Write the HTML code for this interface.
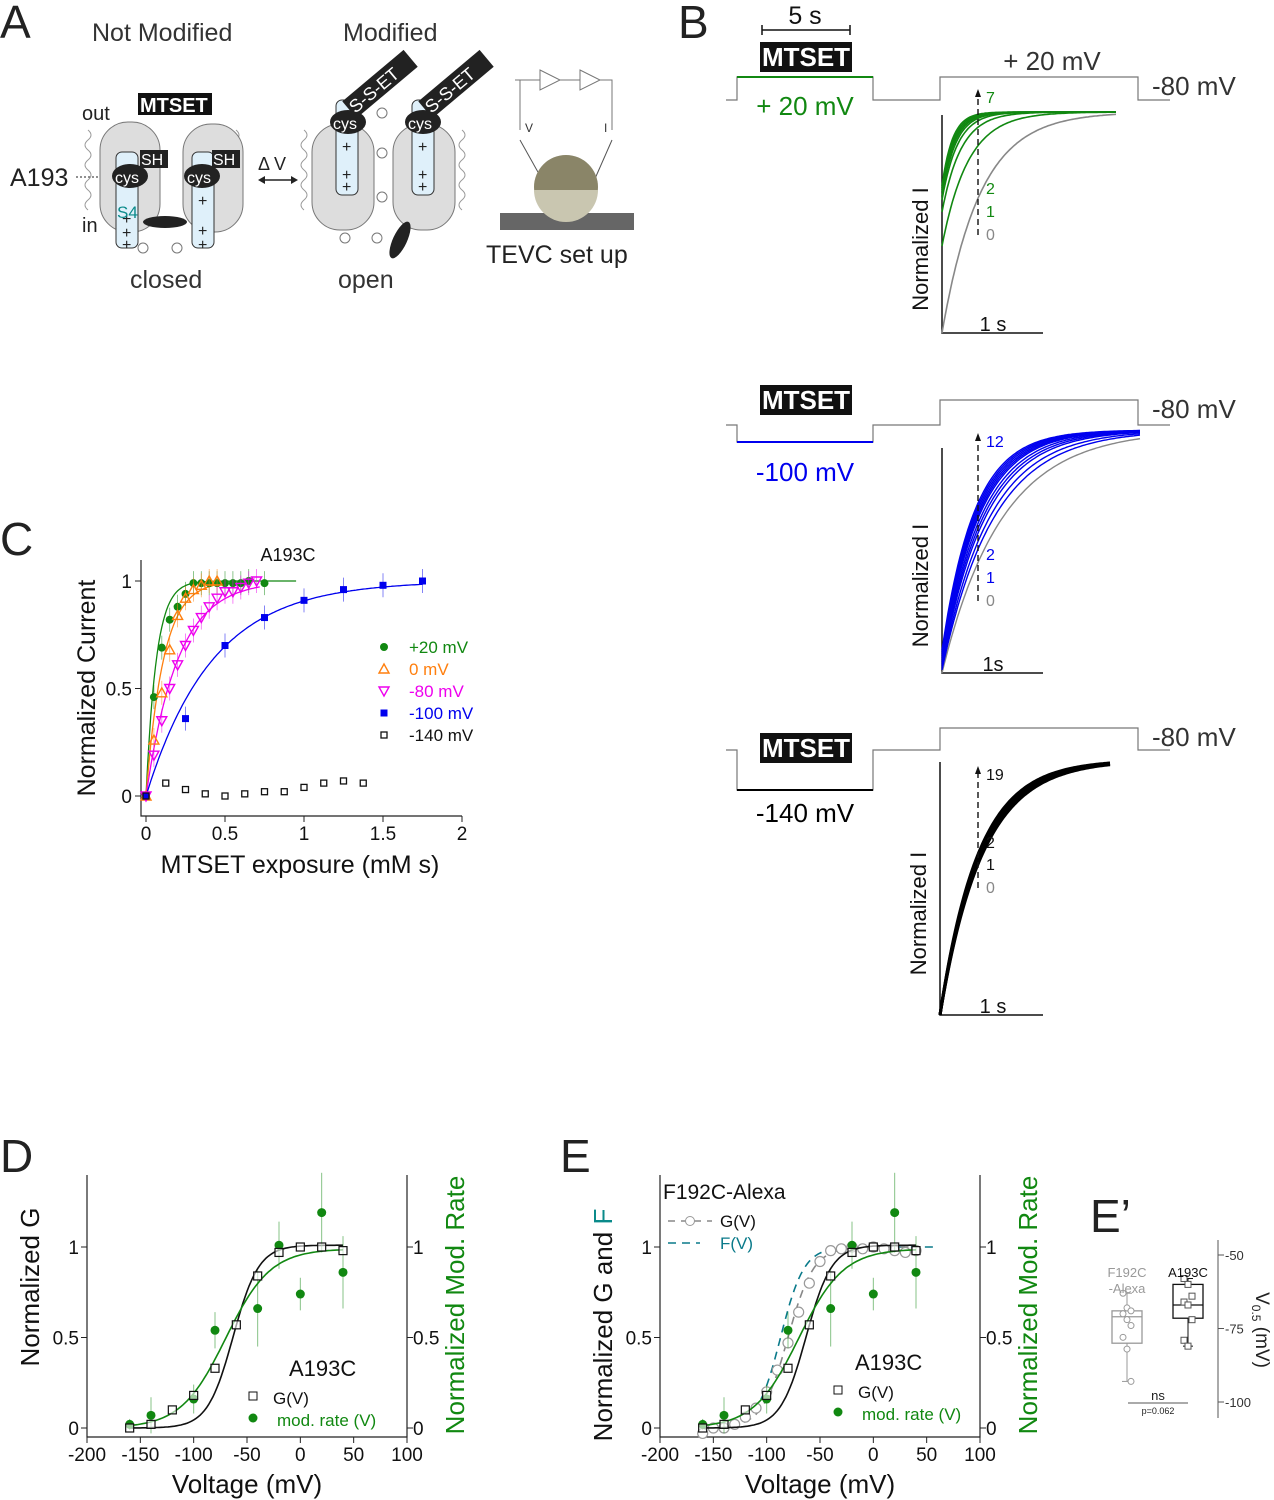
<!DOCTYPE html>
<html><head><meta charset="utf-8">
<style>
html,body{margin:0;padding:0;background:#fff;}
svg{display:block;font-family:"Liberation Sans",Arial,sans-serif;}
</style></head>
<body>
<svg id="fig" width="1274" height="1500" viewBox="0 0 1274 1500" xmlns="http://www.w3.org/2000/svg">
<g font-size="46" fill="#222">
<text x="0" y="38">A</text><text x="678" y="38">B</text><text x="0" y="555">C</text>
<text x="0" y="1172">D</text><text x="560" y="1172">E</text><text x="1090" y="1232">E’</text>
</g>

<g>
<text x="92" y="41" font-size="25" fill="#333">Not Modified</text>
<text x="343" y="41" font-size="25" fill="#333">Modified</text>
<text x="82" y="120" font-size="20" fill="#222">out</text>
<text x="82" y="232" font-size="20" fill="#222">in</text>
<text x="10" y="186" font-size="25" fill="#222">A193</text>
<line x1="76" y1="177" x2="110" y2="177" stroke="#222" stroke-dasharray="2,2"/>
<path d="M106 173 L113 177 L106 181Z" fill="#222"/>
<g fill="none" stroke="#999" stroke-width="1">
<path d="M88 130 q6 5 0 10 q-6 5 0 10 q6 5 0 10 q-6 5 0 10 q6 5 0 10 q-6 5 0 10 q6 5 0 10 q-6 5 0 10"/>
<path d="M236 130 q6 5 0 10 q-6 5 0 10 q6 5 0 10 q-6 5 0 10 q6 5 0 10 q-6 5 0 10 q6 5 0 10 q-6 5 0 10"/>
<path d="M304 130 q6 5 0 10 q-6 5 0 10 q6 5 0 10 q-6 5 0 10 q6 5 0 10 q-6 5 0 10 q6 5 0 10 q-6 5 0 10"/>
<path d="M462 130 q6 5 0 10 q-6 5 0 10 q6 5 0 10 q-6 5 0 10 q6 5 0 10 q-6 5 0 10 q6 5 0 10 q-6 5 0 10"/>
</g>
<rect x="138" y="93" width="74" height="22" fill="#111"/>
<text x="140" y="112" font-size="20" fill="#fff" font-weight="bold">MTSET</text>
<rect x="100" y="122" width="60" height="110" rx="28" fill="#ddd" stroke="#777"/>
<rect x="183" y="124" width="60" height="108" rx="28" fill="#ddd" stroke="#777"/>
<rect x="312" y="124" width="62" height="106" rx="28" fill="#ddd" stroke="#777"/>
<rect x="393" y="124" width="62" height="106" rx="28" fill="#ddd" stroke="#777"/>
<rect x="116" y="152" width="22" height="96" rx="6" fill="#dff0fa" stroke="#333"/>
<rect x="192" y="152" width="22" height="96" rx="6" fill="#dff0fa" stroke="#333"/>
<rect x="336" y="100" width="22" height="95" rx="6" fill="#dff0fa" stroke="#333"/>
<rect x="412" y="100" width="22" height="95" rx="6" fill="#dff0fa" stroke="#333"/>
<g fill="#222" font-size="16"><text x="122" y="224">+</text><text x="122" y="238">+</text><text x="122" y="250">+</text>
<text x="198" y="206">+</text><text x="198" y="236">+</text><text x="198" y="250">+</text>
<text x="342" y="152">+</text><text x="342" y="180">+</text><text x="342" y="192">+</text>
<text x="418" y="152">+</text><text x="418" y="180">+</text><text x="418" y="192">+</text></g>
<g fill="none" stroke="#777"><circle cx="143" cy="248" r="5"/><circle cx="177" cy="248" r="5"/><circle cx="382" cy="113" r="5"/><circle cx="382" cy="153" r="5"/><circle cx="382" cy="197" r="5"/><circle cx="345" cy="238" r="5"/><circle cx="377" cy="238" r="5"/></g>
<g fill="#222"><ellipse cx="130" cy="176" rx="18" ry="12"/><ellipse cx="202" cy="176" rx="18" ry="12"/>
<ellipse cx="348" cy="122" rx="18" ry="12"/><ellipse cx="423" cy="122" rx="18" ry="12"/>
<ellipse cx="165" cy="222" rx="22" ry="6"/><ellipse cx="400" cy="240" rx="7" ry="20" transform="rotate(25 400 240)"/>
<rect x="140" y="150" width="28" height="18"/><rect x="212" y="150" width="28" height="18"/></g>
<g fill="#fff" font-size="16"><text x="115" y="183">cys</text><text x="187" y="183">cys</text>
<text x="333" y="129">cys</text><text x="408" y="129">cys</text><text x="141" y="165">SH</text><text x="213" y="165">SH</text></g>
<g transform="rotate(-40 360 110)"><rect x="352" y="92" width="80" height="22" fill="#222"/><text x="354" y="110" fill="#fff" font-size="18">S-S-ET</text></g>
<g transform="rotate(-40 436 110)"><rect x="428" y="92" width="80" height="22" fill="#222"/><text x="430" y="110" fill="#fff" font-size="18">S-S-ET</text></g>
<text x="117" y="218" font-size="17" fill="#0a8a8a">S4</text>
<text x="258" y="170" font-size="18" fill="#222">Δ V</text>
<line x1="262" y1="180" x2="294" y2="180" stroke="#222" stroke-width="1.5"/>
<path d="M258 180 L265 176 L265 184Z M298 180 L291 176 L291 184Z" fill="#222"/>
<text x="130" y="288" font-size="25" fill="#333">closed</text>
<text x="338" y="288" font-size="25" fill="#333">open</text>
<path d="M515 80 H540 M540 70 L560 80 L540 90Z M560 80 H580 M580 70 L600 80 L580 90Z M600 80 H612 V130 M520 80 V130" fill="none" stroke="#777"/>
<line x1="520" y1="140" x2="548" y2="190" stroke="#555"/><line x1="612" y1="140" x2="590" y2="190" stroke="#555"/>
<text x="525" y="132" font-size="12" fill="#333">V</text><text x="604" y="132" font-size="12" fill="#333">I</text>
<path d="M500 213 H634 V230 H500Z" fill="#666"/>
<circle cx="566" cy="187" r="32" fill="#8a8568"/><path d="M534 190 A32 32 0 0 0 598 190Z" fill="#c9c6b0"/>
<text x="486" y="263" font-size="25" fill="#222">TEVC set up</text>
</g>

<g id="panelB"></g>
<g id="panelC"></g>
<g id="panelD"></g>
<g id="panelE"></g>
<g id="panelEp"></g>
</svg>
<script>
// Panel C data
const cTicksX = [0, 0.5, 1, 1.5, 2];
const cTicksY = [0, 0.5, 1];
const cP20x = [0, 0.05, 0.1, 0.15, 0.2, 0.25, 0.3, 0.35, 0.4, 0.45, 0.5, 0.55, 0.6, 0.65, 0.75];
const cP20y = [0, 0.46, 0.69, 0.82, 0.88, 0.94, 0.99, 0.99, 0.99, 0.99, 0.99, 0.99, 0.99, 1.0, 0.99];
const c0x = [0, 0.05, 0.1, 0.15, 0.2, 0.25, 0.3, 0.35, 0.4, 0.45];
const c0y = [0, 0.26, 0.48, 0.68, 0.84, 0.92, 0.96, 0.98, 1.0, 1.0];
const cM80x = [0, 0.05, 0.1, 0.15, 0.2, 0.25, 0.3, 0.35, 0.4, 0.45, 0.5, 0.55, 0.6, 0.65, 0.7];
const cM80y = [0, 0.19, 0.35, 0.5, 0.61, 0.7, 0.77, 0.83, 0.88, 0.92, 0.95, 0.95, 0.97, 0.99, 1.0];
const cM100x = [0, 0.25, 0.5, 0.75, 1.0, 1.25, 1.5, 1.75];
const cM100y = [0, 0.36, 0.7, 0.83, 0.91, 0.96, 0.98, 1.0];
const cM140x = [0, 0.125, 0.25, 0.375, 0.5, 0.625, 0.75, 0.875, 1.0, 1.125, 1.25, 1.375];
const cM140y = [0, 0.06, 0.03, 0.01, 0, 0.01, 0.02, 0.02, 0.04, 0.06, 0.07, 0.06];
const cTau = [0.065, 0.11, 0.2, 0.42];
// Panel D data
const dTicksX = [-200, -150, -100, -50, 0, 50, 100];
const dTicksY = [0, 0.5, 1];
const gvV = [-160, -140, -120, -100, -80, -60, -40, -20, 0, 20, 40];
const gvG = [0, 0.02, 0.1, 0.18, 0.33, 0.57, 0.84, 0.97, 1.0, 1.0, 0.98];
const modV = [-160, -140, -100, -80, -40, -20, 0, 20, 40];
const modR = [0.02, 0.07, 0.16, 0.54, 0.66, 1.01, 0.74, 1.19, 0.86];
const modErr = [0.03, 0.1, 0.08, 0.1, 0.21, 0.13, 0.09, 0.22, 0.2];
const gvFit = [-63, 12, 1.01];
const modFit = [-70, 21, 0.99];
// Panel E data
const fgV = [-160, -150, -140, -130, -120, -110, -100, -90, -80, -70, -60, -50, -40, -30, -20, -10, 0, 10, 20, 30, 40];
const fgG = [-0.03, 0.0, 0.0, 0.02, 0.06, 0.11, 0.2, 0.32, 0.47, 0.64, 0.8, 0.92, 0.98, 0.99, 1.0, 0.99, 1.0, 0.99, 0.98, 0.97, 0.98];
const fgFit = [-80, 12, 1.0];
const fvFit = [-87, 11, 1.0];
// Panel E' data
const boxLabels = ["F192C\n-Alexa", "A193C"];
const boxQ = [[-93, -80, -71, -69, -63], [-81, -71.5, -67, -60, -58]];
const boxPts = [[-63, -68, -69, -70, -72, -74, -78, -82, -93], [-58, -60, -64, -66, -67, -72, -79, -81]];
const epTicks = [-50, -75, -100];

const NS = "http://www.w3.org/2000/svg";
function mk(parent, tag, attrs, txt) {
  const e = document.createElementNS(NS, tag);
  for (const k in attrs) e.setAttribute(k, attrs[k]);
  if (txt !== undefined) e.textContent = txt;
  parent.appendChild(e);
  return e;
}
function boltz(v, p) { return p[2] / (1 + Math.exp((p[0] - v) / p[1])); }

// Panel B
(function () {
  const g = document.getElementById('panelB');
  const protos = [
    { base: 100, pre: 77, step: 77, col: "#118811", lab: "+ 20 mV", ly: 115, top: 112, starts: [333, 246, 212, 200, 196, 192, 190, 188, 186], taus: [0.22, 0.15, 0.11, 0.09, 0.08, 0.075, 0.07, 0.065, 0.06], num: ["7", "2", "1", "0"], numy: [103, 194, 217, 240], x0: 942, axTop: 115, bot: 333, xEnd: 1116, cap: "1 s", w: 1.6 },
    { base: 425, pre: 442, step: 400, col: "#0000ee", lab: "-100 mV", ly: 481, top: 430, starts: [673, 670, 668, 666, 664, 662, 660, 658, 656, 654, 652, 650], taus: [0.3, 0.26, 0.24, 0.22, 0.21, 0.2, 0.19, 0.185, 0.18, 0.175, 0.17, 0.165], num: ["12", "2", "1", "0"], numy: [447, 560, 583, 606], x0: 942, axTop: 448, bot: 673, xEnd: 1140, cap: "1s", w: 1.4 },
    { base: 750, pre: 790, step: 728, col: "#000", lab: "-140 mV", ly: 822, top: 760, starts: [1015, 1015, 1015, 1015, 1015, 1015], taus: [0.25, 0.245, 0.24, 0.235, 0.23, 0.225], num: ["19", "2", "1", "0"], numy: [780, 848, 870, 893], x0: 940, axTop: 762, bot: 1015, xEnd: 1110, cap: "1 s", w: 3 }
  ];
  protos.forEach((p, k) => {
    mk(g, 'path', { d: `M726 ${p.base} H737 V${p.pre} H873 V${p.base} H940 V${p.step} H1138 V${p.base} H1170`, fill: 'none', stroke: '#777', 'stroke-width': 1.2 });
    mk(g, 'line', { x1: 737, y1: p.pre, x2: 873, y2: p.pre, stroke: p.col, 'stroke-width': 2 });
    const mt = mk(g, 'rect', { x: 760, y: p.pre - (k == 0 ? 35 : 57), width: 92, height: 30, fill: '#111' });
    
    
    mk(g, 'text', { x: 806, y: p.pre - (k == 0 ? 11 : 33), 'font-size': 26, fill: '#fff', 'text-anchor': 'middle', 'font-weight': 'bold' }, 'MTSET');
    mk(g, 'text', { x: 805, y: p.ly, 'font-size': 26, fill: p.col, 'text-anchor': 'middle' }, p.lab);
    mk(g, 'text', { x: 1152, y: p.step + 18, 'font-size': 26, fill: '#333' }, '-80 mV');
    mk(g, 'path', { d: `M${p.x0} ${p.axTop} V${p.bot} H1043`, fill: 'none', stroke: '#111', 'stroke-width': 1.5 });
    mk(g, 'text', { x: 993, y: p.bot - 2, 'font-size': 20, fill: '#111', 'text-anchor': 'middle' }, p.cap);
    mk(g, 'text', { x: 0, y: 0, 'font-size': 22, fill: '#111', 'text-anchor': 'middle', transform: `translate(${p.x0 - 14},${(p.axTop + p.bot) / 2 + 25}) rotate(-90)` }, 'Normalized I');
    p.starts.forEach((s, i) => {
      let d = '';
      for (let t = 0; t <= 1.0001; t += 0.01) {
        const x = p.x0 + t * (p.xEnd - p.x0);
        const y = p.top + (s - p.top) * Math.exp(-t / p.taus[i]);
        d += (t === 0 ? 'M' : 'L') + x.toFixed(1) + ' ' + y.toFixed(1);
      }
      const c = (i === 0 && k < 2) ? '#888' : p.col;
      const tr = mk(g, 'path', { d, fill: 'none', stroke: c, 'stroke-width': p.w });
      
      
    });
    mk(g, 'line', { x1: 978, y1: p.numy[3] - 5, x2: 978, y2: p.numy[0] - 8, stroke: '#111', 'stroke-dasharray': '6,4', 'stroke-width': 1.4 });
    mk(g, 'path', { d: `M975 ${p.numy[0] - 6} L978 ${p.numy[0] - 14} L981 ${p.numy[0] - 6}Z`, fill: '#111' });
    p.num.forEach((n, i) => mk(g, 'text', { x: 986, y: p.numy[i], 'font-size': 16, fill: i == 3 ? '#888' : (k == 2 ? '#111' : p.col) }, n));
  });
  mk(g, 'text', { x: 805, y: 24, 'font-size': 25, fill: '#111', 'text-anchor': 'middle' }, '5 s');
  mk(g, 'path', { d: 'M762 25 V35 M762 30 H850 M850 25 V35', stroke: '#111', fill: 'none', 'stroke-width': 1.5 });
  mk(g, 'text', { x: 1052, y: 70, 'font-size': 26, fill: '#333', 'text-anchor': 'middle' }, '+ 20 mV');
})();

// Panel C
(function () {
  const g = document.getElementById('panelC');
  const X = v => 146 + v * 158, Y = v => 796 - v * 215;
  mk(g, 'path', { d: 'M141 560 V816 H462', fill: 'none', stroke: '#222', 'stroke-width': 1.2 });
  cTicksX.forEach(t => { mk(g, 'line', { x1: X(t), y1: 816, x2: X(t), y2: 822, stroke: '#222' }); mk(g, 'text', { x: X(t), y: 840, 'font-size': 19, 'text-anchor': 'middle', fill: '#111' }, String(t)); });
  cTicksY.forEach(t => { mk(g, 'line', { x1: 135, y1: Y(t), x2: 141, y2: Y(t), stroke: '#222' }); mk(g, 'text', { x: 132, y: Y(t) + 7, 'font-size': 19, 'text-anchor': 'end', fill: '#111' }, String(t)); });
  mk(g, 'text', { x: 300, y: 873, 'font-size': 25, 'text-anchor': 'middle', fill: '#111' }, 'MTSET exposure (mM s)');
  mk(g, 'text', { x: 0, y: 0, 'font-size': 25, 'text-anchor': 'middle', fill: '#111', transform: 'translate(95,688) rotate(-90)' }, 'Normalized Current');
  mk(g, 'text', { x: 288, y: 561, 'font-size': 18, 'text-anchor': 'middle', fill: '#111' }, 'A193C');
  const cols = ['#118811', '#ff7f0e', '#ee00ee', '#0000ee'];
  const maxX = [0.95, 0.45, 0.72, 1.75];
  cTau.forEach((tau, i) => {
    let d = '';
    for (let x = 0; x <= maxX[i] + 1e-9; x += 0.01) d += (x === 0 ? 'M' : 'L') + X(x).toFixed(1) + ' ' + Y(1 - Math.exp(-x / tau)).toFixed(1);
    mk(g, 'path', { d, fill: 'none', stroke: cols[i], 'stroke-width': 1.3 });
  });
  const sets = [[cP20x, cP20y, 'circle'], [c0x, c0y, 'tri'], [cM80x, cM80y, 'itri'], [cM100x, cM100y, 'sq'], [cM140x, cM140y, 'osq']];
  const colsAll = cols.concat(['#111']);
  function marker(x, y, type, c) {
    if (type === 'circle') return mk(g, 'circle', { cx: x, cy: y, r: 4, fill: c });
    if (type === 'tri') return mk(g, 'path', { d: `M${x} ${y - 5} L${x + 5} ${y + 4} L${x - 5} ${y + 4}Z`, fill: 'none', stroke: c, 'stroke-width': 1.4 });
    if (type === 'itri') return mk(g, 'path', { d: `M${x} ${y + 5} L${x + 5} ${y - 4} L${x - 5} ${y - 4}Z`, fill: 'none', stroke: c, 'stroke-width': 1.4 });
    if (type === 'sq') return mk(g, 'rect', { x: x - 3.5, y: y - 3.5, width: 7, height: 7, fill: c });
    return mk(g, 'rect', { x: x - 3, y: y - 3, width: 6, height: 6, fill: 'none', stroke: c, 'stroke-width': 1.3 });
  }
  sets.forEach((s, i) => {
    s[0].forEach((x, j) => {
      if (j > 0 && i < 4) mk(g, 'line', { x1: X(x), y1: Y(s[1][j]) - 12, x2: X(x), y2: Y(s[1][j]) + 12, stroke: colsAll[i], 'stroke-width': 0.8, opacity: 0.6 });
      const m = marker(X(x), Y(s[1][j]), s[2], colsAll[i]);
      
      
    });
  });
  const labs = ['+20 mV', '0 mV', '-80 mV', '-100 mV', '-140 mV'];
  labs.forEach((l, i) => {
    marker(384, 647 + i * 22, sets[i][2], colsAll[i]);
    const t = mk(g, 'text', { x: 409, y: 653 + i * 22, 'font-size': 17, fill: colsAll[i] }, l);
    
    
  });
})();

// Panels D & E
function vPanel(gid, x0, x1, ylab, isE) {
  const g = document.getElementById(gid);
  const X = v => x0 + (v + 200) * (x1 - x0) / 300, Y = v => 1428 - v * 181;
  mk(g, 'path', { d: `M${x0} 1175 V1437 H${x1} V1175`, fill: 'none', stroke: '#222', 'stroke-width': 1.2 });
  dTicksX.forEach(t => { mk(g, 'line', { x1: X(t), y1: 1437, x2: X(t), y2: 1443, stroke: '#222' }); mk(g, 'text', { x: X(t), y: 1461, 'font-size': 19, 'text-anchor': 'middle', fill: '#111' }, String(t)); });
  dTicksY.forEach(t => {
    mk(g, 'line', { x1: x0 - 6, y1: Y(t), x2: x0, y2: Y(t), stroke: '#222' });
    mk(g, 'line', { x1: x1, y1: Y(t), x2: x1 + 6, y2: Y(t), stroke: '#222' });
    mk(g, 'text', { x: x0 - 8, y: Y(t) + 7, 'font-size': 19, 'text-anchor': 'end', fill: '#111' }, String(t));
    mk(g, 'text', { x: x1 + 6, y: Y(t) + 7, 'font-size': 19, fill: '#111' }, String(t));
  });
  mk(g, 'text', { x: (x0 + x1) / 2, y: 1493, 'font-size': 26, 'text-anchor': 'middle', fill: '#111' }, 'Voltage (mV)');
  mk(g, 'text', { x: 0, y: 0, 'font-size': 26, 'text-anchor': 'middle', fill: '#118811', transform: `translate(${x1 + 57},1305) rotate(-90)` }, 'Normalized Mod. Rate');
  const yl = mk(g, 'text', { x: 0, y: 0, 'font-size': 26, 'text-anchor': 'middle', fill: '#111', transform: `translate(${x0 - 48},${isE ? 1325 : 1287}) rotate(-90)` });
  yl.textContent = ylab;
  if (isE) mk(yl, 'tspan', { fill: '#0a8a8a' }, ' F');
  function curve(p, c, dash, vmax) {
    let d = '';
    for (let v = -160; v <= vmax; v += 2) d += (v === -160 ? 'M' : 'L') + X(v).toFixed(1) + ' ' + Y(boltz(v, p)).toFixed(1);
    mk(g, 'path', { d, fill: 'none', stroke: c, 'stroke-width': 1.6, 'stroke-dasharray': dash || 'none' });
  }
  if (isE) {
    curve(fvFit, '#0a7a8a', '8,6', 60);
    curve(fgFit, '#888', '8,6', 40);
    fgV.forEach((v, i) => {
      const c = mk(g, 'circle', { cx: X(v), cy: Y(fgG[i]), r: 5, fill: '#fff', stroke: '#999', 'stroke-width': 1.2 });
      
      
    });
  }
  curve(gvFit, '#111', null, 40);
  curve(modFit, '#118811', null, 40);
  modV.forEach((v, i) => {
    mk(g, 'line', { x1: X(v), y1: Y(modR[i] - modErr[i]), x2: X(v), y2: Y(modR[i] + modErr[i]), stroke: '#118811', opacity: 0.5 });
    const c = mk(g, 'circle', { cx: X(v), cy: Y(modR[i]), r: 4.5, fill: '#118811' });
    
    
  });
  gvV.forEach((v, i) => {
    const r = mk(g, 'rect', { x: X(v) - 4, y: Y(gvG[i]) - 4, width: 8, height: 8, fill: '#fff', 'fill-opacity': 0.6, stroke: '#111', 'stroke-width': 1.2 });
    
    
  });
  const lx = isE ? 855 : 289, ly = isE ? 1370 : 1376;
  const sx = isE ? 838 : 253;
  mk(g, 'text', { x: lx, y: ly, 'font-size': 22, fill: '#111' }, 'A193C');
  mk(g, 'rect', { x: sx - 4, y: ly + 16, width: 8, height: 8, fill: 'none', stroke: '#111' });
  mk(g, 'text', { x: sx + 20, y: ly + 28, 'font-size': 17, fill: '#111' }, 'G(V)');
  mk(g, 'circle', { cx: sx, cy: ly + 42, r: 4.5, fill: '#118811' });
  mk(g, 'text', { x: sx + 24, y: ly + 50, 'font-size': 17, fill: '#118811' }, 'mod. rate (V)');
  if (isE) {
    mk(g, 'text', { x: 663, y: 1199, 'font-size': 21, fill: '#111' }, 'F192C-Alexa');
    mk(g, 'line', { x1: 668, y1: 1221, x2: 712, y2: 1221, stroke: '#888', 'stroke-dasharray': '7,6', 'stroke-width': 1.6 });
    mk(g, 'circle', { cx: 690, cy: 1221, r: 4.5, fill: '#fff', stroke: '#999' });
    mk(g, 'text', { x: 720, y: 1227, 'font-size': 17, fill: '#111' }, 'G(V)');
    mk(g, 'line', { x1: 668, y1: 1243, x2: 700, y2: 1243, stroke: '#0a7a8a', 'stroke-dasharray': '8,6', 'stroke-width': 1.6 });
    mk(g, 'text', { x: 720, y: 1249, 'font-size': 17, fill: '#0a7a8a' }, 'F(V)');
  }
}
vPanel('panelD', 87, 407, 'Normalized G', false);
vPanel('panelE', 660, 980, 'Normalized G and', true);

// Panel E'
(function () {
  const g = document.getElementById('panelEp');
  const Y = v => 1255 + (-50 - v) * 147 / 50;
  const ax = 1218;
  mk(g, 'line', { x1: ax, y1: 1240, x2: ax, y2: 1418, stroke: '#555' });
  epTicks.forEach(t => { mk(g, 'line', { x1: ax, y1: Y(t), x2: ax + 6, y2: Y(t), stroke: '#555' }); mk(g, 'text', { x: ax + 7, y: Y(t) + 5, 'font-size': 13, fill: '#333' }, String(t)); });
  const yl = mk(g, 'text', { x: 0, y: 0, 'font-size': 19, fill: '#222', 'text-anchor': 'middle', transform: 'translate(1256,1330) rotate(90)' }, 'V');
  mk(yl, 'tspan', { 'font-size': 12, dy: 4 }, '0.5');
  mk(yl, 'tspan', { dy: -4 }, ' (mV)');
  const cx = [1127, 1188], cols = ['#999', '#111'];
  boxQ.forEach((q, i) => {
    const c = cols[i];
    mk(g, 'line', { x1: cx[i], y1: Y(q[0]), x2: cx[i], y2: Y(q[4]), stroke: c });
    mk(g, 'line', { x1: cx[i] - 5, y1: Y(q[0]), x2: cx[i] + 5, y2: Y(q[0]), stroke: c });
    mk(g, 'line', { x1: cx[i] - 5, y1: Y(q[4]), x2: cx[i] + 5, y2: Y(q[4]), stroke: c });
    const b = mk(g, 'rect', { x: cx[i] - 15, y: Y(q[3]), width: 30, height: Y(q[1]) - Y(q[3]), fill: '#fff', stroke: c, 'stroke-width': 1.3 });
    
    
    mk(g, 'line', { x1: cx[i] - 15, y1: Y(q[2]), x2: cx[i] + 15, y2: Y(q[2]), stroke: c, 'stroke-width': 1.3 });
    boxPts[i].forEach((v, j) => {
      const px = cx[i] + ((j % 3) - 1) * 4;
      if (i === 0) mk(g, 'circle', { cx: px, cy: Y(v), r: 3, fill: '#fff', stroke: c });
      else mk(g, 'rect', { x: px - 3, y: Y(v) - 3, width: 6, height: 6, fill: '#fff', stroke: '#555' });
    });
    boxLabels[i].split('\n').forEach((l, k) => mk(g, 'text', { x: cx[i], y: 1277 + k * 16, 'font-size': 13, fill: c, 'text-anchor': 'middle' }, l));
  });
  mk(g, 'line', { x1: 1128, y1: 1403, x2: 1188, y2: 1403, stroke: '#555' });
  mk(g, 'text', { x: 1158, y: 1400, 'font-size': 13, fill: '#222', 'text-anchor': 'middle' }, 'ns');
  mk(g, 'text', { x: 1158, y: 1414, 'font-size': 9, fill: '#222', 'text-anchor': 'middle' }, 'p=0.062');
})();
</script>
</body></html>
